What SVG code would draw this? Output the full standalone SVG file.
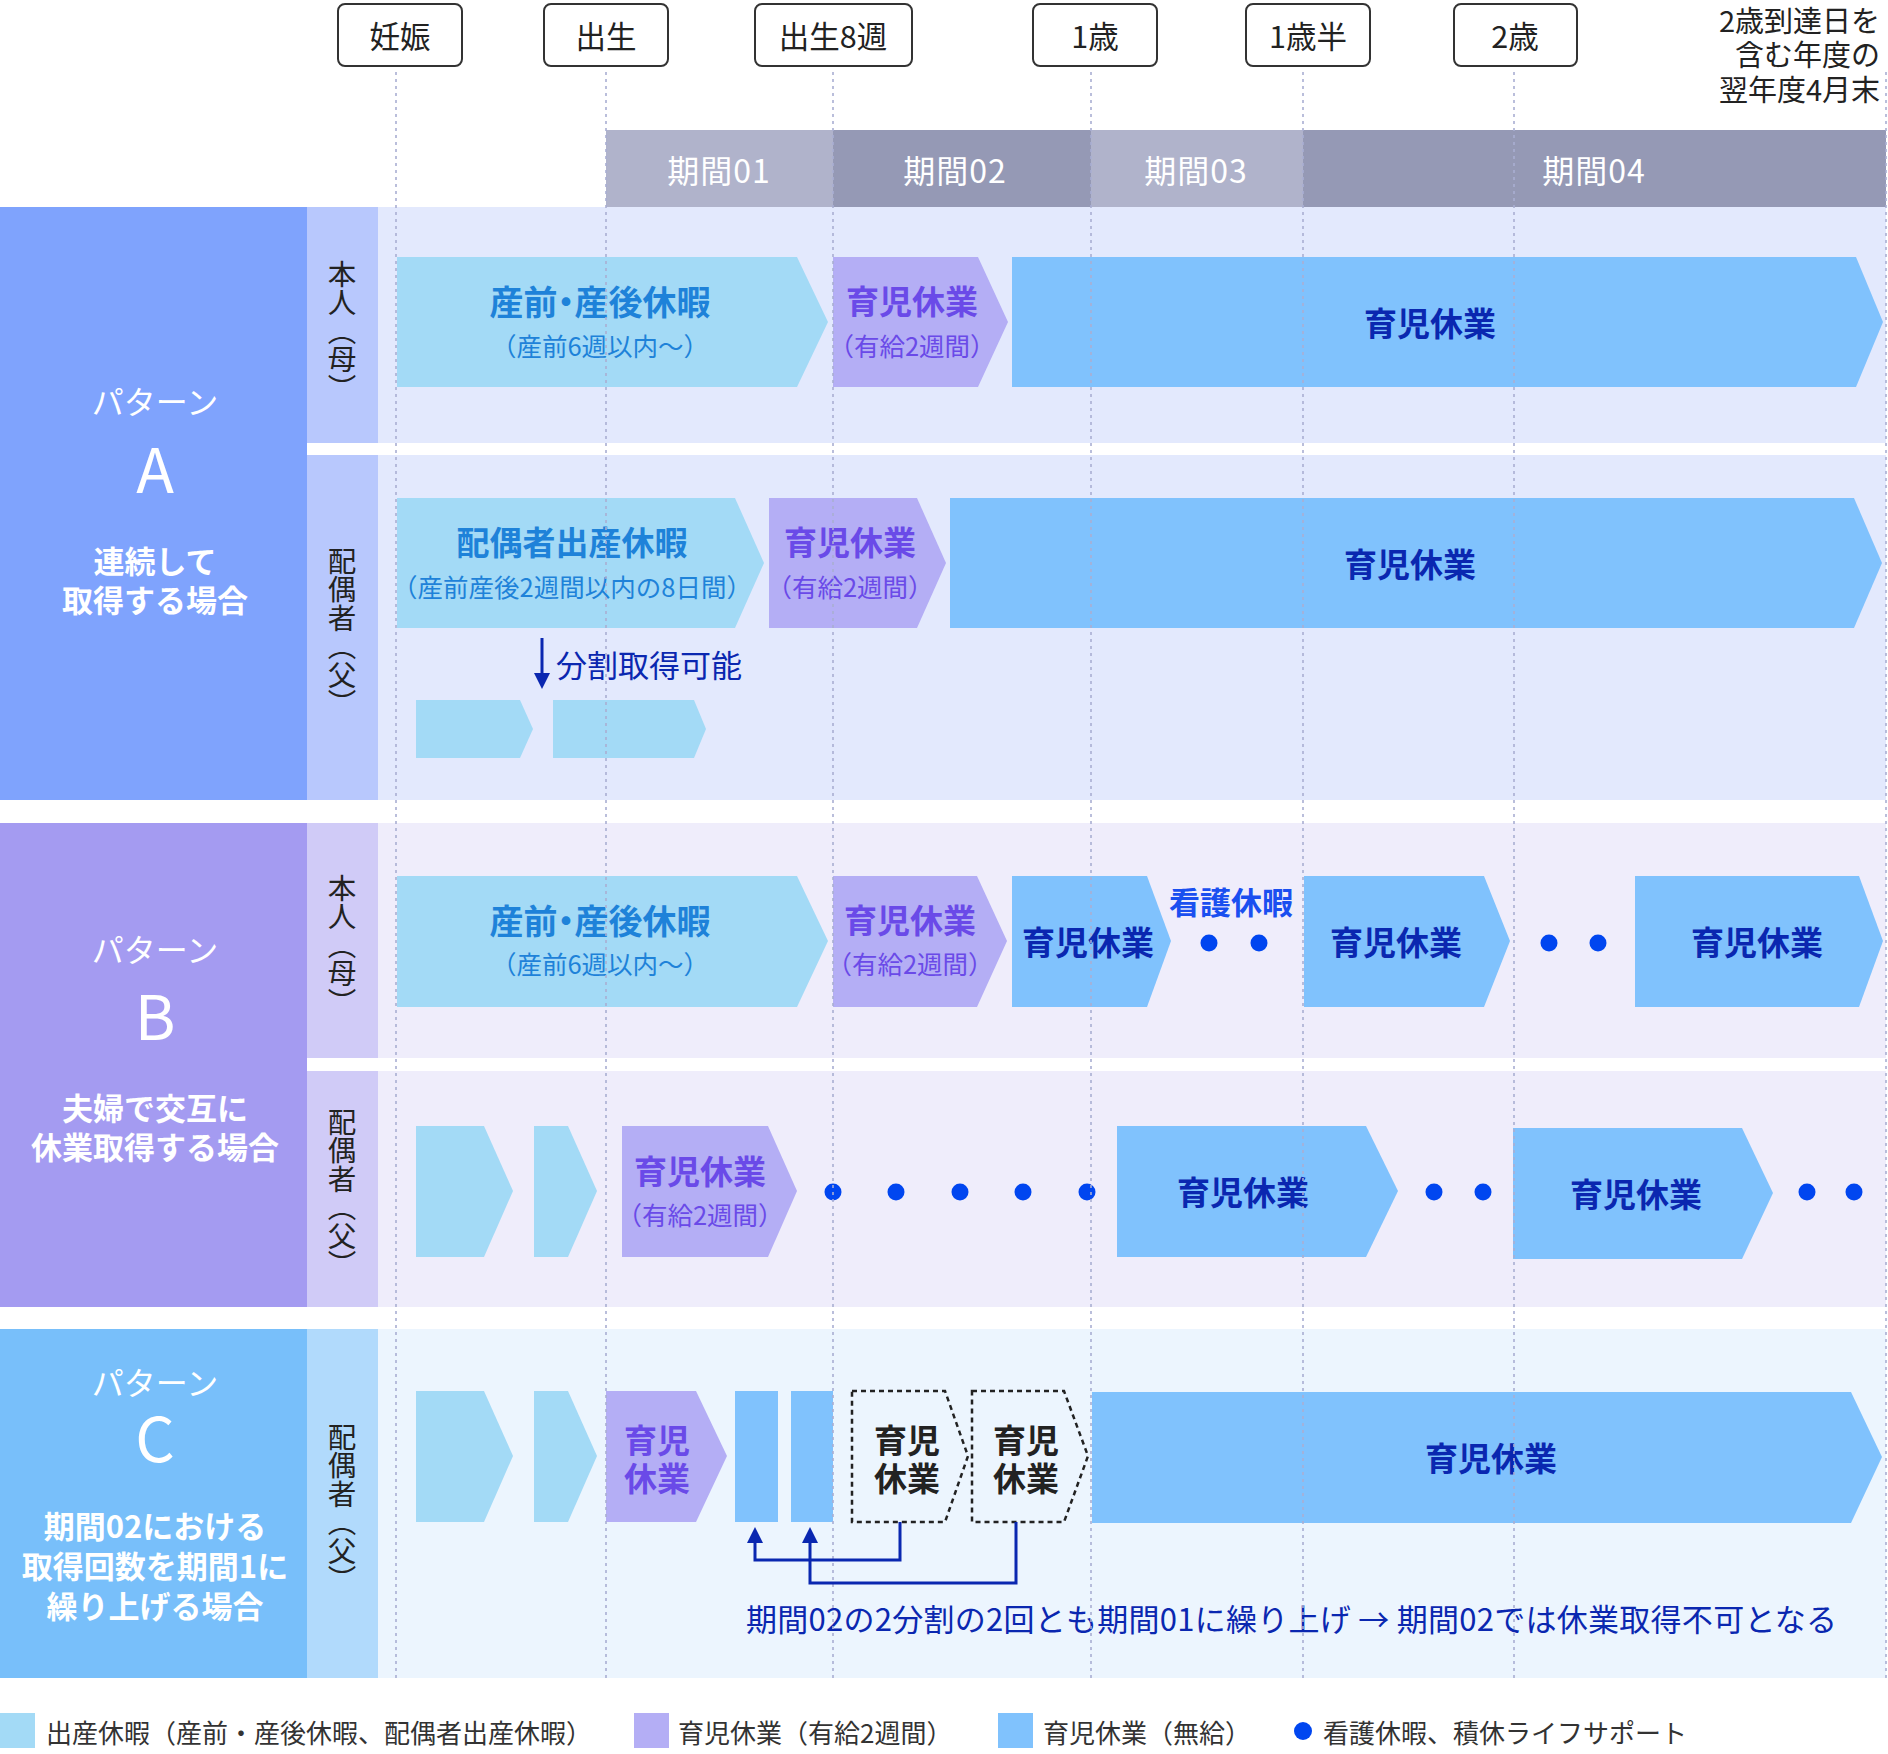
<svg xmlns="http://www.w3.org/2000/svg" width="1888" height="1754" viewBox="0 0 1888 1754">
<style>
text{font-family:"Noto Sans CJK JP","Noto Sans",sans-serif;dominant-baseline:central}
.ms{fill:#fff;stroke:#333;stroke-width:2}
.mst{font-size:30.5px;fill:#222;text-anchor:middle}
.endt{font-size:29px;fill:#222;text-anchor:end}
.per{font-size:32px;fill:#fff;text-anchor:middle;letter-spacing:1px}
.pl{font-size:32px;fill:#fff;text-anchor:middle}
.pbig{font-size:62px;fill:#fff;text-anchor:middle}
.pd{font-size:31px;fill:#fff;text-anchor:middle;font-weight:700}
.vt{font-size:28.5px;fill:#222;text-anchor:middle;writing-mode:vertical-rl}
.cy{fill:#a3daf6}
.pu{fill:#b4aef5}
.bl{fill:#80c2fd}
.dash{fill:none;stroke:#222;stroke-width:2.5;stroke-dasharray:5 4}
.tcy{font-size:33px;fill:#1e82d9;text-anchor:middle;font-weight:700}
.palt{font-feature-settings:"palt" 1;font-size:34px}
.scy{font-size:25.5px;fill:#1e82d9;text-anchor:middle}
.tpu{font-size:33px;fill:#6a4ae8;text-anchor:middle;font-weight:700}
.spu{font-size:25.5px;fill:#6a4ae8;text-anchor:middle}
.tbl{font-size:33px;fill:#0a27b0;text-anchor:middle;font-weight:700}
.tbk{font-size:33px;fill:#222;text-anchor:middle;font-weight:700}
.dot{fill:#0046f0}
.note{font-size:31px;fill:#0a27b0}
.kango{font-size:31px;fill:#1a4ff0;font-weight:700;text-anchor:middle}
.leg{font-size:26px;fill:#333}
.vl{stroke:#a9aed2;stroke-width:2;stroke-dasharray:3 4;fill:none;opacity:.8}
.con{stroke:#0a27b0;stroke-width:3;fill:none}
</style>
<defs>
<marker id="ah" viewBox="0 0 16 16" refX="0" refY="8" markerWidth="16" markerHeight="18" markerUnits="userSpaceOnUse" orient="auto">
<path d="M0,0 L16,8 L0,16 z" fill="#0a27b0"/>
</marker>
</defs>

<!-- top milestones -->
<g id="milestones">
<g id="m-ninshin"><rect class="ms" x="338" y="4" width="124" height="62" rx="7"/><text class="mst" x="400" y="35">妊娠</text></g>
<g id="m-shussei"><rect class="ms" x="544" y="4" width="124" height="62" rx="7"/><text class="mst" x="606" y="35">出生</text></g>
<g id="m-8w"><rect class="ms" x="755" y="4" width="157" height="62" rx="7"/><text class="mst" x="833" y="35">出生8週</text></g>
<g id="m-1y"><rect class="ms" x="1033" y="4" width="124" height="62" rx="7"/><text class="mst" x="1095" y="35">1歳</text></g>
<g id="m-15y"><rect class="ms" x="1246" y="4" width="124" height="62" rx="7"/><text class="mst" x="1308" y="35">1歳半</text></g>
<g id="m-2y"><rect class="ms" x="1454" y="4" width="123" height="62" rx="7"/><text class="mst" x="1515" y="35">2歳</text></g>
<g id="m-end"><text class="endt" x="1880"><tspan x="1880" y="19">2歳到達日を</tspan><tspan x="1880" y="53">含む年度の</tspan><tspan x="1880" y="88">翌年度4月末</tspan></text></g>
</g>

<!-- period header -->
<g id="periods">
<g id="p01"><rect x="606" y="130" width="227" height="77" fill="#b0b3cb"/><text class="per" x="719" y="169">期間01</text></g>
<g id="p02"><rect x="833" y="130" width="258" height="77" fill="#9599b5"/><text class="per" x="955" y="169">期間02</text></g>
<g id="p03"><rect x="1091" y="130" width="212" height="77" fill="#b0b3cb"/><text class="per" x="1196" y="169">期間03</text></g>
<g id="p04"><rect x="1303" y="130" width="583" height="77" fill="#9599b5"/><text class="per" x="1594" y="169">期間04</text></g>
</g>

<!-- pattern A -->
<g id="patternA">
<rect x="0" y="207" width="1886" height="593" fill="#e3e9fd"/>
<rect x="0" y="207" width="307" height="593" fill="#7fa3fd"/>
<rect x="307" y="207" width="71" height="593" fill="#b8c8fd"/>
<rect x="307" y="443" width="1579" height="12" fill="#fff"/>
<text class="pl" x="155" y="400">パターン</text>
<text class="pbig" x="155" y="466">A</text>
<text class="pd" x="155"><tspan x="155" y="559">連続して</tspan><tspan x="155" y="598">取得する場合</tspan></text>
<text class="vt" x="342" y="331">本人（母）</text>
<text class="vt" x="342" y="632">配偶者（父）</text>
</g>

<!-- pattern B -->
<g id="patternB">
<rect x="0" y="823" width="1886" height="484" fill="#efedfb"/>
<rect x="0" y="823" width="307" height="484" fill="#a49bf1"/>
<rect x="307" y="823" width="71" height="484" fill="#d0cbf7"/>
<rect x="307" y="1058" width="1579" height="13" fill="#fff"/>
<text class="pl" x="155" y="948">パターン</text>
<text class="pbig" x="155" y="1013">B</text>
<text class="pd" x="155"><tspan x="155" y="1106">夫婦で交互に</tspan><tspan x="155" y="1145">休業取得する場合</tspan></text>
<text class="vt" x="342" y="945">本人（母）</text>
<text class="vt" x="342" y="1193">配偶者（父）</text>
</g>

<!-- pattern C -->
<g id="patternC">
<rect x="0" y="1329" width="1886" height="349" fill="#ecf5fe"/>
<rect x="0" y="1329" width="307" height="349" fill="#78bffa"/>
<rect x="307" y="1329" width="71" height="349" fill="#b1dafc"/>
<text class="pl" x="155" y="1381">パターン</text>
<text class="pbig" x="155" y="1435">C</text>
<text class="pd" x="155"><tspan x="155" y="1524">期間02における</tspan><tspan x="155" y="1564">取得回数を期間1に</tspan><tspan x="155" y="1604">繰り上げる場合</tspan></text>
<text class="vt" x="342" y="1508">配偶者（父）</text>
</g>

<!-- A row 1 -->
<g id="a1-cy"><path class="cy" d="M397,257H797L828,322L797,387H397Z"/><text class="tcy palt" x="600" y="300">産前・産後休暇</text><text class="scy" x="600" y="344">（産前6週以内〜）</text></g>
<g id="a1-pu"><path class="pu" d="M833,257H978L1008,322L978,387H833Z"/><text class="tpu" x="912" y="300">育児休業</text><text class="spu" x="912" y="344">（有給2週間）</text></g>
<g id="a1-bl"><path class="bl" d="M1012,257H1856L1883,322L1856,387H1012Z"/><text class="tbl" x="1430" y="322">育児休業</text></g>

<!-- A row 2 -->
<g id="a2-cy"><path class="cy" d="M397,498H735L764,563L735,628H397Z"/><text class="tcy" x="572" y="541">配偶者出産休暇</text><text class="scy" x="572" y="585">（産前産後2週間以内の8日間）</text></g>
<g id="a2-pu"><path class="pu" d="M769,498H917L946,563L917,628H769Z"/><text class="tpu" x="850" y="541">育児休業</text><text class="spu" x="850" y="585">（有給2週間）</text></g>
<g id="a2-bl"><path class="bl" d="M950,498H1854L1882,563L1854,628H950Z"/><text class="tbl" x="1410" y="563">育児休業</text></g>
<g id="a2-note"><text class="note" x="556" y="663">分割取得可能</text></g>
<g id="a2-s1"><path class="cy" d="M416,700H520L533,729L520,758H416Z"/></g>
<g id="a2-s2"><path class="cy" d="M553,700H694L706,729L694,758H553Z"/></g>

<!-- B row 1 -->
<g id="b1-cy"><path class="cy" d="M397,876H797L828,941L797,1007H397Z"/><text class="tcy palt" x="600" y="919">産前・産後休暇</text><text class="scy" x="600" y="962">（産前6週以内〜）</text></g>
<g id="b1-pu"><path class="pu" d="M833,876H977L1007,941L977,1007H833Z"/><text class="tpu" x="910" y="919">育児休業</text><text class="spu" x="910" y="962">（有給2週間）</text></g>
<g id="b1-bl1"><path class="bl" d="M1012,876H1147L1171,941L1147,1007H1012Z"/><text class="tbl" x="1088" y="941">育児休業</text></g>
<g id="b1-kango"><text class="kango" x="1231" y="900">看護休暇</text><circle class="dot" cx="1209" cy="943" r="8.5"/><circle class="dot" cx="1259" cy="943" r="8.5"/></g>
<g id="b1-bl2"><path class="bl" d="M1304,876H1484L1510,941L1484,1007H1304Z"/><text class="tbl" x="1396" y="941">育児休業</text></g>
<g id="b1-dots"><circle class="dot" cx="1549" cy="943" r="8.5"/><circle class="dot" cx="1598" cy="943" r="8.5"/></g>
<g id="b1-bl3"><path class="bl" d="M1635,876H1859L1883,941L1859,1007H1635Z"/><text class="tbl" x="1757" y="941">育児休業</text></g>

<!-- B row 2 -->
<g id="b2-cy1"><path class="cy" d="M416,1126H484L513,1191L484,1257H416Z"/></g>
<g id="b2-cy2"><path class="cy" d="M534,1126H568L597,1191L568,1257H534Z"/></g>
<g id="b2-pu"><path class="pu" d="M622,1126H768L797,1191L768,1257H622Z"/><text class="tpu" x="700" y="1170">育児休業</text><text class="spu" x="700" y="1213">（有給2週間）</text></g>
<g id="b2-dots1"><circle class="dot" cx="833" cy="1192" r="8.5"/><circle class="dot" cx="896" cy="1192" r="8.5"/><circle class="dot" cx="960" cy="1192" r="8.5"/><circle class="dot" cx="1023" cy="1192" r="8.5"/><circle class="dot" cx="1087" cy="1192" r="8.5"/></g>
<g id="b2-bl1"><path class="bl" d="M1117,1126H1366L1398,1191L1366,1257H1117Z"/><text class="tbl" x="1243" y="1191">育児休業</text></g>
<g id="b2-dots2"><circle class="dot" cx="1434" cy="1192" r="8.5"/><circle class="dot" cx="1483" cy="1192" r="8.5"/></g>
<g id="b2-bl2"><path class="bl" d="M1513,1128H1742L1773,1193L1742,1259H1513Z"/><text class="tbl" x="1636" y="1193">育児休業</text></g>
<g id="b2-dots3"><circle class="dot" cx="1807" cy="1192" r="8.5"/><circle class="dot" cx="1854" cy="1192" r="8.5"/></g>

<!-- C row -->
<g id="c-cy1"><path class="cy" d="M416,1391H484L513,1456L484,1522H416Z"/></g>
<g id="c-cy2"><path class="cy" d="M534,1391H568L597,1456L568,1522H534Z"/></g>
<g id="c-pu"><path class="pu" d="M606,1391H696L727,1456L696,1522H606Z"/><text class="tpu" x="657"><tspan x="657" y="1439">育児</tspan><tspan x="657" y="1477">休業</tspan></text></g>
<g id="c-r1"><rect class="bl" x="735" y="1391" width="43" height="131"/></g>
<g id="c-r2"><rect class="bl" x="791" y="1391" width="42" height="131"/></g>
<g id="c-d1"><path class="dash" d="M852,1391H945L968,1456L945,1522H852Z"/><text class="tbk" x="907"><tspan x="907" y="1439">育児</tspan><tspan x="907" y="1477">休業</tspan></text></g>
<g id="c-d2"><path class="dash" d="M972,1391H1064L1088,1456L1064,1522H972Z"/><text class="tbk" x="1026"><tspan x="1026" y="1439">育児</tspan><tspan x="1026" y="1477">休業</tspan></text></g>
<g id="c-bl"><path class="bl" d="M1092,1392H1851L1882,1457L1851,1523H1092Z"/><text class="tbl" x="1491" y="1457">育児休業</text></g>
<g id="c-note"><text class="note" x="746" y="1617" textLength="1091" lengthAdjust="spacing">期間02の2分割の2回とも期間01に繰り上げ → 期間02では休業取得不可となる</text></g>

<!-- vertical dotted timeline lines -->
<g id="timeline">
<line class="vl" x1="396" y1="72" x2="396" y2="1678"/>
<line class="vl" x1="606" y1="72" x2="606" y2="1678"/>
<line class="vl" x1="833" y1="72" x2="833" y2="1678"/>
<line class="vl" x1="1091" y1="72" x2="1091" y2="1678"/>
<line class="vl" x1="1303" y1="72" x2="1303" y2="1678"/>
<line class="vl" x1="1514" y1="72" x2="1514" y2="1678"/>
<line class="vl" x1="1886" y1="72" x2="1886" y2="1678"/>
</g>

<!-- connectors -->
<g id="connectors">
<path class="con" d="M542,638V673" marker-end="url(#ah)"/>
<path class="con" d="M900,1522V1560H755V1543" marker-end="url(#ah)"/>
<path class="con" d="M1016,1522V1583H810V1543" marker-end="url(#ah)"/>
</g>

<!-- legend -->
<g id="legend">
<g id="leg1"><rect class="cy" x="0" y="1713" width="35" height="35"/><text class="leg" x="46" y="1731">出産休暇（産前・産後休暇、配偶者出産休暇）</text></g>
<g id="leg2"><rect class="pu" x="634" y="1713" width="35" height="35"/><text class="leg" x="678" y="1731">育児休業（有給2週間）</text></g>
<g id="leg3"><rect class="bl" x="998" y="1713" width="35" height="35"/><text class="leg" x="1043" y="1731">育児休業（無給）</text></g>
<g id="leg4"><circle class="dot" cx="1303" cy="1731" r="9"/><text class="leg" x="1323" y="1731">看護休暇、積休ライフサポート</text></g>
</g>
</svg>
